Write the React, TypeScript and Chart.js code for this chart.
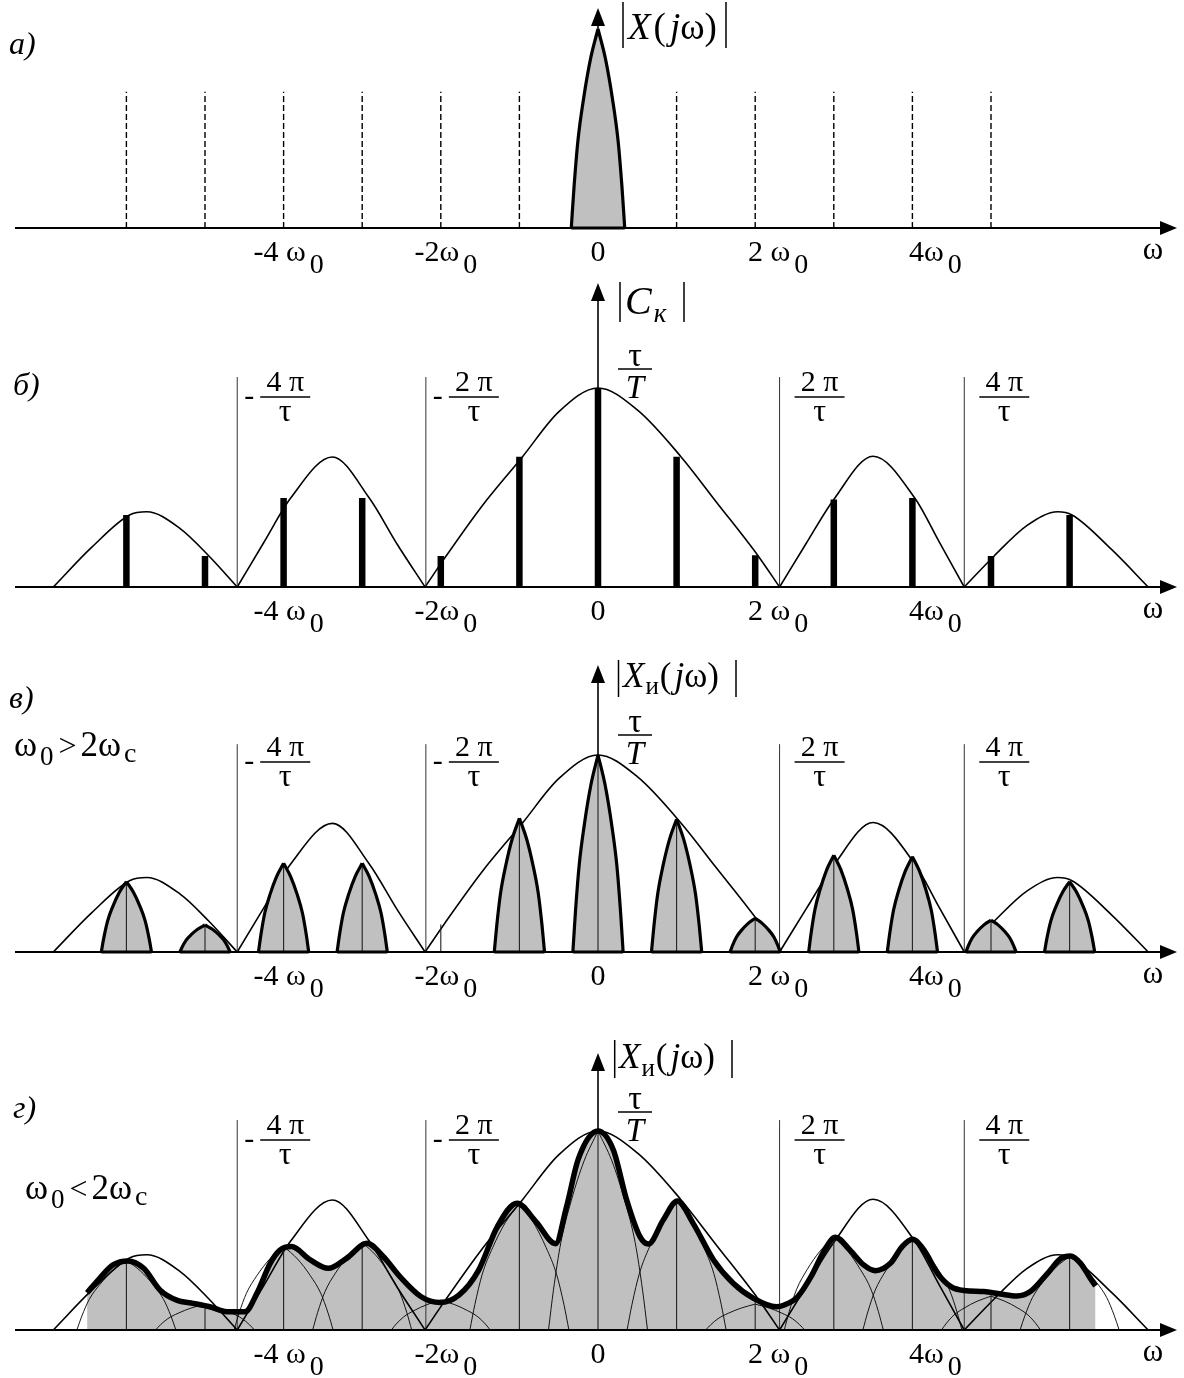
import React, { useEffect, useRef } from 'react';
import { Chart, registerables } from 'chart.js';

Chart.register(...registerables);

// ---------------- data (ω in units of ω0, amplitude: main lobe τ/T = 1) ----------------
const harmonics = [-6, -5, -4, -3, -2, -1, 0, 1, 2, 3, 4, 5, 6];
// б) line spectrum |C_k|
const lineSpectrum = [0.362, 0.156, 0.447, 0.447, 0.156, 0.655, 1.0, 0.655, 0.16, 0.44, 0.447, 0.156, 0.362];
// в) heights of spectrum copies (no copy drawn at -2ω0, only a short line)
const sampledHeights = [0.357, 0.137, 0.45, 0.45, null, 0.679, 1.0, 0.674, 0.171, 0.492, 0.484, 0.162, 0.357];
const stubHarmonics = [-2];
const stubHeights = [0.14];
// г) overlapping copies and their centre lines
const aliasHeights = [0.35, 0.13, 0.42, 0.44, 0.15, 0.637, 1.0, 0.648, 0.13, 0.466, 0.456, 0.17, 0.37];
const aliasStemHeights = [0.347, 0.117, 0.419, 0.436, null, 0.637, 1.0, 0.648, 0.15, 0.466, 0.456, 0.184, 0.372];
// а) dashed harmonic markers
const dashedHarmonics = [-6, -5, -4, -3, -2, -1, 1, 2, 3, 4, 5];
const dashedHeights = [0.685, 0.685, 0.685, 0.685, 0.685, 0.685, 0.685, 0.685, 0.685, 0.685, 0.685];

// spectrum shape |X(jω)| of the continuous signal (normalised half-width and height)
const spikeU = [-1, -0.9, -0.75, -0.54, -0.28, 0, 0.28, 0.54, 0.75, 0.9, 1];
const spikeV = [0, 0.2, 0.44, 0.65, 0.85, 1, 0.85, 0.65, 0.44, 0.2, 0];
const narrowHalfWidth = 0.34; // а), в): ωc < ω0/2
const wideHalfWidth = 0.63;   // г): ωc > ω0/2

// sinc-type envelope, lobes separated by null
const envelopeW = [
  -6.93, -6.44, -5.96, -5.74, -5.32, -4.95, -4.59, null,
  -4.59, -4.25, -3.91, -3.38, -2.91, -2.555, -2.2, null,
  -2.2, -1.96, -1.47, -0.96, -0.5, 0, 0.5, 1.055, 1.5, 2.04, 2.31, null,
  2.31, 2.65, 3.0, 3.5, 4.03, 4.35, 4.66, null,
  4.66, 5.04, 5.46, 5.85, 6.03, 6.53, 7.0,
];
const envelopeV = [
  0, 0.2, 0.362, 0.378, 0.295, 0.156, 0, null,
  0, 0.225, 0.447, 0.653, 0.447, 0.215, 0, null,
  0, 0.14, 0.41, 0.655, 0.88, 1.0, 0.89, 0.655, 0.43, 0.155, 0, null,
  0, 0.22, 0.44, 0.657, 0.447, 0.22, 0, null,
  0, 0.156, 0.31, 0.378, 0.362, 0.19, 0,
];

// envelope zeros ±2π/τ, ±4π/τ
const zeroW = [-4.59, -2.19, 2.31, 4.66];
const zeroSign = ['-', '-', '', ''];
const zeroNumer = ['4 π', '2 π', '2 π', '4 π'];
const zeroLineTops = [1.055, 1.055, 1.055, 1.055];

// г) resulting (aliased) spectrum
const aliasW = [
  -6.5, -6.34, -6.17, -5.98, -5.78, -5.57, -5.36, -5.15, -4.94, -4.72, -4.49, -4.34, -4.17, -4.05, -3.9,
  -3.66, -3.43, -3.2, -2.94, -2.73, -2.52, -2.25, -2.01, -1.77, -1.52, -1.28, -1.03, -0.79, -0.54, -0.4,
  -0.25, 0, 0.195, 0.365, 0.534, 0.64, 0.83, 1.01, 1.21, 1.47, 1.72, 1.98, 2.27, 2.37, 2.54, 2.71, 2.88,
  3.02, 3.21, 3.38, 3.53, 3.72, 3.87, 4.0, 4.15, 4.32, 4.49, 4.66, 4.91, 5.12, 5.33, 5.5, 5.72, 5.89, 6.01,
  6.14, 6.25, 6.33,
];
const aliasV = [
  0.187, 0.26, 0.327, 0.347, 0.31, 0.2, 0.15, 0.134, 0.117, 0.092, 0.092, 0.184, 0.335, 0.4, 0.419,
  0.352, 0.31, 0.36, 0.436, 0.368, 0.268, 0.167, 0.138, 0.175, 0.3, 0.52, 0.637, 0.545, 0.434, 0.62,
  0.86, 1.0, 0.905, 0.653, 0.469, 0.432, 0.553, 0.648, 0.536, 0.352, 0.235, 0.159, 0.117, 0.126, 0.167, 0.268, 0.4,
  0.466, 0.4, 0.327, 0.298, 0.335, 0.419, 0.456, 0.4, 0.285, 0.218, 0.198, 0.193, 0.181, 0.171, 0.193, 0.285, 0.36, 0.372,
  0.335, 0.268, 0.221,
];

// axis tick labels
const tickW = [-4, -2, 0, 2, 4];
const tickText = ['-4 ω', '-2ω', '0', '2 ω', '4ω'];
const tickSub = ['0', '0', '', '0', '0'];

// ---------------- layout / style ----------------
const W = 1184;
const H = 1378;
const ORIGIN_X = 598;
const PX_PER_W0 = 78.6;
const X_MIN = -ORIGIN_X / PX_PER_W0;
const X_MAX = (W - ORIGIN_X) / PX_PER_W0;
const FONT = "'Liberation Serif', 'DejaVu Serif', serif";
const GRAY = '#c0c0c0';

const pt = (x: number, y: number) => ({ x, y });
const gap = (x: number) => ({ x, y: null });

function spikeOutline(c: number, h: number, hw: number, withBase: boolean) {
  const out: any[] = [];
  for (let i = 0; i <= 5; i++) out.push(pt(c + spikeU[i] * hw, spikeV[i] * h));
  out.push(gap(c));
  for (let i = 5; i < spikeU.length; i++) out.push(pt(c + spikeU[i] * hw, spikeV[i] * h));
  out.push(gap(c));
  if (withBase) {
    out.push(pt(c - hw, 0), pt(c + hw, 0), gap(c));
  }
  return out;
}
function spikeFill(c: number, h: number, hw: number) {
  const out: any[] = spikeU.map((u, i) => pt(c + u * hw, spikeV[i] * h));
  out.push(gap(c));
  return out;
}
function stems(ws: number[], hs: (number | null)[]) {
  const out: any[] = [];
  ws.forEach((w, i) => {
    const h = hs[i];
    if (h == null) return;
    out.push(pt(w, 0), pt(w, h), gap(w));
  });
  return out;
}
function envelopeData() {
  return envelopeW.map((w, i) => (envelopeV[i] == null || w == null ? gap(0) : pt(w, envelopeV[i] as number)));
}
function aliasData() {
  return aliasW.map((w, i) => pt(w, aliasV[i]));
}
const line = (data: any[], o: any = {}) => ({
  type: 'line',
  data,
  borderColor: '#000',
  backgroundColor: 'rgba(0,0,0,0)',
  borderWidth: 1,
  pointRadius: 0,
  pointHoverRadius: 0,
  fill: false,
  tension: 0,
  spanGaps: false,
  ...o,
});

// ---------------- text helpers ----------------
type Run = { t: string; size: number; italic?: boolean; dy?: number; dx?: number };
const fnt = (size: number, italic?: boolean) => `${italic ? 'italic ' : ''}${size}px ${FONT}`;
function drawRuns(ctx: CanvasRenderingContext2D, x: number, y: number, runs: Run[], align: 'left' | 'center' = 'left') {
  let total = 0;
  for (const r of runs) {
    ctx.font = fnt(r.size, r.italic);
    total += (r.dx || 0) + ctx.measureText(r.t).width;
  }
  let cx = align === 'center' ? x - total / 2 : x;
  ctx.textAlign = 'left';
  ctx.textBaseline = 'alphabetic';
  for (const r of runs) {
    ctx.font = fnt(r.size, r.italic);
    cx += r.dx || 0;
    ctx.fillText(r.t, cx, y + (r.dy || 0));
    cx += ctx.measureText(r.t).width;
  }
}
function hline(ctx: CanvasRenderingContext2D, x1: number, x2: number, y: number, w = 1.5) {
  ctx.lineWidth = w;
  ctx.beginPath();
  ctx.moveTo(x1, y);
  ctx.lineTo(x2, y);
  ctx.stroke();
}
function vline(ctx: CanvasRenderingContext2D, x: number, y1: number, y2: number, w = 1.5) {
  ctx.lineWidth = w;
  ctx.beginPath();
  ctx.moveTo(x, y1);
  ctx.lineTo(x, y2);
  ctx.stroke();
}
function drawXAxis(ctx: CanvasRenderingContext2D, y: number) {
  hline(ctx, 15, 1165, y, 2);
  ctx.beginPath();
  ctx.moveTo(1177, y);
  ctx.lineTo(1160, y - 7);
  ctx.lineTo(1160, y + 7);
  ctx.closePath();
  ctx.fill();
  drawRuns(ctx, 1153, y + 31, [{ t: 'ω', size: 31 }], 'center');
}
function drawYArrowHead(ctx: CanvasRenderingContext2D, x: number, tip: number) {
  ctx.beginPath();
  ctx.moveTo(x, tip);
  ctx.lineTo(x - 7, tip + 18);
  ctx.lineTo(x + 7, tip + 18);
  ctx.closePath();
  ctx.fill();
}
function drawTicks(ctx: CanvasRenderingContext2D, px: (w: number) => number, axisY: number) {
  tickW.forEach((w, i) => {
    const off = w < 0 ? 5 : w > 0 ? 23 : 0;
    const runs: Run[] = [{ t: tickText[i], size: 30 }];
    if (tickSub[i]) runs.push({ t: tickSub[i], size: 28, dy: 12, dx: 4 });
    drawRuns(ctx, px(w) + off, axisY + 33, runs, 'center');
  });
}
function drawZeroLabels(ctx: CanvasRenderingContext2D, px: (w: number) => number, barY: number) {
  zeroW.forEach((w, i) => {
    const lx = px(w);
    const neg = zeroSign[i] === '-';
    const cx = lx + (neg ? 48 : 40);
    if (neg) drawRuns(ctx, lx + 12, barY + 8, [{ t: '-', size: 30 }], 'center');
    hline(ctx, cx - 25, cx + 25, barY, 1.5);
    drawRuns(ctx, cx, barY - 6, [{ t: zeroNumer[i], size: 30 }], 'center');
    drawRuns(ctx, cx, barY + 24, [{ t: 'τ', size: 32 }], 'center');
  });
}
function drawTauT(ctx: CanvasRenderingContext2D, x0: number, barY: number) {
  const cx = x0 + 37;
  hline(ctx, cx - 17, cx + 17, barY, 1.5);
  drawRuns(ctx, cx, barY - 3, [{ t: 'τ', size: 34 }], 'center');
  drawRuns(ctx, cx, barY + 29, [{ t: 'T', size: 33, italic: true }], 'center');
}

// ---------------- panels ----------------
type Panel = {
  id: string;
  top: number;
  height: number;
  axisY: number;
  unit: number;
  arrowTip: number;
  datasets: () => any[];
  decorate: (ctx: CanvasRenderingContext2D, px: (w: number) => number, py: (y: number) => number) => void;
};

const PANELS: Panel[] = [
  {
    id: 'a',
    top: 0,
    height: 280,
    axisY: 228,
    unit: 199,
    arrowTip: 8,
    datasets: () => [
      line(spikeOutline(0, 1, narrowHalfWidth, true), { borderWidth: 3.2, cubicInterpolationMode: 'monotone' }),
      line(spikeFill(0, 1, narrowHalfWidth), { fill: 'origin', backgroundColor: GRAY, borderColor: 'rgba(0,0,0,0)' }),
      line(stems(dashedHarmonics, dashedHeights), { borderWidth: 1.4, borderDash: [6, 3] }),
    ],
    decorate: (ctx, px, py) => {
      drawRuns(ctx, 9, py(54), [{ t: 'а)', size: 32, italic: true }]);
      vline(ctx, 623, py(2), py(48), 1.5);
      vline(ctx, 726, py(2), py(48), 1.5);
      drawRuns(ctx, 628, py(39), [
        { t: 'X', size: 37, italic: true },
        { t: '(', size: 37, dx: 3 },
        { t: 'j', size: 37, italic: true, dx: 4 },
        { t: 'ω', size: 37, dx: 0 },
        { t: ')', size: 37, dx: 0 },
      ]);
    },
  },
  {
    id: 'b',
    top: 280,
    height: 365,
    axisY: 587,
    unit: 199,
    arrowTip: 283,
    datasets: () => [
      line(stems(harmonics, lineSpectrum), { borderWidth: 6.5 }),
      line(stems(zeroW, zeroLineTops), { borderWidth: 1, borderColor: '#333' }),
      line(envelopeData(), { borderWidth: 1.6, cubicInterpolationMode: 'monotone' }),
    ],
    decorate: (ctx, px, py) => {
      drawRuns(ctx, 13, py(395), [{ t: 'б)', size: 32, italic: true }]);
      vline(ctx, 620, py(282), py(322), 1.5);
      vline(ctx, 684, py(282), py(322), 1.5);
      drawRuns(ctx, 625, py(314), [
        { t: 'C', size: 40, italic: true },
        { t: 'к', size: 27, italic: true, dy: 8, dx: 2 },
      ]);
      drawTauT(ctx, px(0), py(369));
      drawZeroLabels(ctx, px, py(397));
    },
  },
  {
    id: 'c',
    top: 645,
    height: 370,
    axisY: 952,
    unit: 197,
    arrowTip: 665,
    datasets: () => {
      const outlines: any[] = [];
      const fills: any[] = [];
      const cw: number[] = [];
      const ch: number[] = [];
      harmonics.forEach((k, i) => {
        const h = sampledHeights[i];
        if (h == null) return;
        outlines.push(...spikeOutline(k, h, narrowHalfWidth * 0.94, true));
        fills.push(...spikeFill(k, h, narrowHalfWidth * 0.94));
        cw.push(k);
        ch.push(h);
      });
      stubHarmonics.forEach((k, i) => {
        cw.push(k);
        ch.push(stubHeights[i]);
      });
      return [
        line(outlines, { borderWidth: 3.2, cubicInterpolationMode: 'monotone' }),
        line(stems(cw, ch), { borderWidth: 1.1, borderColor: '#222' }),
        line(fills, { fill: 'origin', backgroundColor: GRAY, borderColor: 'rgba(0,0,0,0)' }),
        line(stems(zeroW, zeroLineTops), { borderWidth: 1, borderColor: '#333' }),
        line(envelopeData(), { borderWidth: 1.6, cubicInterpolationMode: 'monotone' }),
      ];
    },
    decorate: (ctx, px, py) => {
      drawRuns(ctx, 9, py(708), [{ t: 'в)', size: 32, italic: true }]);
      vline(ctx, 618.5, py(660), py(697), 1.5);
      vline(ctx, 736, py(660), py(697), 1.5);
      drawRuns(ctx, 623, py(687), [
        { t: 'X', size: 35, italic: true },
        { t: 'и', size: 25, dy: 7, dx: 1 },
        { t: '(', size: 35, dx: 1 },
        { t: 'j', size: 35, italic: true, dx: 3 },
        { t: 'ω', size: 35, dx: 0 },
        { t: ')', size: 35, dx: 0 },
      ]);
      drawRuns(ctx, 14, py(756), [
        { t: 'ω', size: 35 },
        { t: '0', size: 27, dy: 9, dx: 3 },
        { t: '>', size: 32, dx: 5 },
        { t: '2ω', size: 35, dx: 4 },
        { t: 'c', size: 28, dy: 6, dx: 3 },
      ]);
      drawTauT(ctx, px(0), py(735));
      drawZeroLabels(ctx, px, py(762));
    },
  },
  {
    id: 'd',
    top: 1015,
    height: 363,
    axisY: 1330,
    unit: 199,
    arrowTip: 1053,
    datasets: () => {
      const thin: any[] = [];
      harmonics.forEach((k, i) => {
        thin.push(...spikeOutline(k, aliasHeights[i], wideHalfWidth, false));
      });
      return [
        line(aliasData(), { borderWidth: 5.5, cubicInterpolationMode: 'monotone', borderJoinStyle: 'round' }),
        line(stems(harmonics, aliasStemHeights), { borderWidth: 1.1, borderColor: '#222' }),
        line(thin, { borderWidth: 0.9, cubicInterpolationMode: 'monotone' }),
        line(envelopeData(), { borderWidth: 1.6, cubicInterpolationMode: 'monotone' }),
        line(stems(zeroW, zeroLineTops), { borderWidth: 1, borderColor: '#333' }),
        line(aliasData(), { fill: 'origin', backgroundColor: GRAY, borderColor: 'rgba(0,0,0,0)', cubicInterpolationMode: 'monotone' }),
      ];
    },
    decorate: (ctx, px, py) => {
      drawRuns(ctx, 13, py(1118), [{ t: 'г)', size: 32, italic: true }]);
      vline(ctx, 614.7, py(1040), py(1078), 1.5);
      vline(ctx, 732, py(1040), py(1078), 1.5);
      drawRuns(ctx, 619, py(1068), [
        { t: 'X', size: 35, italic: true },
        { t: 'и', size: 25, dy: 8, dx: 1 },
        { t: '(', size: 35, dx: 1 },
        { t: 'j', size: 35, italic: true, dx: 3 },
        { t: 'ω', size: 35, dx: 0 },
        { t: ')', size: 35, dx: 0 },
      ]);
      drawRuns(ctx, 25, py(1199), [
        { t: 'ω', size: 35 },
        { t: '0', size: 27, dy: 9, dx: 3 },
        { t: '<', size: 32, dx: 5 },
        { t: '2ω', size: 35, dx: 4 },
        { t: 'c', size: 28, dy: 6, dx: 3 },
      ]);
      drawTauT(ctx, px(0), py(1112));
      drawZeroLabels(ctx, px, py(1140));
    },
  },
];

function PanelChart({ cfg }: { cfg: Panel }) {
  const ref = useRef<HTMLCanvasElement>(null);
  useEffect(() => {
    const canvas = ref.current;
    if (!canvas) return;
    const yMax = (cfg.axisY - cfg.top) / cfg.unit;
    const yMin = -(cfg.top + cfg.height - cfg.axisY) / cfg.unit;
    const deco = {
      id: 'deco_' + cfg.id,
      beforeDatasetsDraw(chart: any) {
        const ctx = chart.ctx as CanvasRenderingContext2D;
        const x0 = chart.scales.x.getPixelForValue(0);
        ctx.save();
        ctx.strokeStyle = '#000';
        vline(ctx, x0, cfg.axisY - cfg.top, cfg.arrowTip - cfg.top + 6, 1.6);
        ctx.restore();
      },
      afterDatasetsDraw(chart: any) {
        const ctx = chart.ctx as CanvasRenderingContext2D;
        const xs = chart.scales.x;
        const px = (w: number) => xs.getPixelForValue(w);
        const py = (y: number) => y - cfg.top;
        ctx.save();
        ctx.strokeStyle = '#000';
        ctx.fillStyle = '#000';
        drawXAxis(ctx, py(cfg.axisY));
        drawYArrowHead(ctx, px(0), py(cfg.arrowTip));
        drawTicks(ctx, px, py(cfg.axisY));
        cfg.decorate(ctx, px, py);
        ctx.restore();
      },
    };
    const chart = new Chart(canvas, {
      type: 'line',
      data: { datasets: cfg.datasets() },
      options: {
        responsive: false,
        animation: false,
        devicePixelRatio: 1,
        events: [],
        layout: { padding: 0, autoPadding: false },
        plugins: { legend: { display: false }, tooltip: { enabled: false }, title: { display: false } },
        scales: {
          x: { type: 'linear', min: X_MIN, max: X_MAX, display: false },
          y: { type: 'linear', min: yMin, max: yMax, display: false },
        },
      },
      plugins: [deco],
    } as any);
    return () => chart.destroy();
  }, [cfg]);
  return (
    <canvas
      ref={ref}
      width={W}
      height={cfg.height}
      style={{ position: 'absolute', left: 0, top: cfg.top, width: W, height: cfg.height, display: 'block' }}
    />
  );
}

export default function App() {
  return (
    <div style={{ position: 'absolute', left: 0, top: 0, width: W, height: H, background: '#fff', overflow: 'hidden' }}>
      {PANELS.map((p) => (
        <PanelChart key={p.id} cfg={p} />
      ))}
    </div>
  );
}
